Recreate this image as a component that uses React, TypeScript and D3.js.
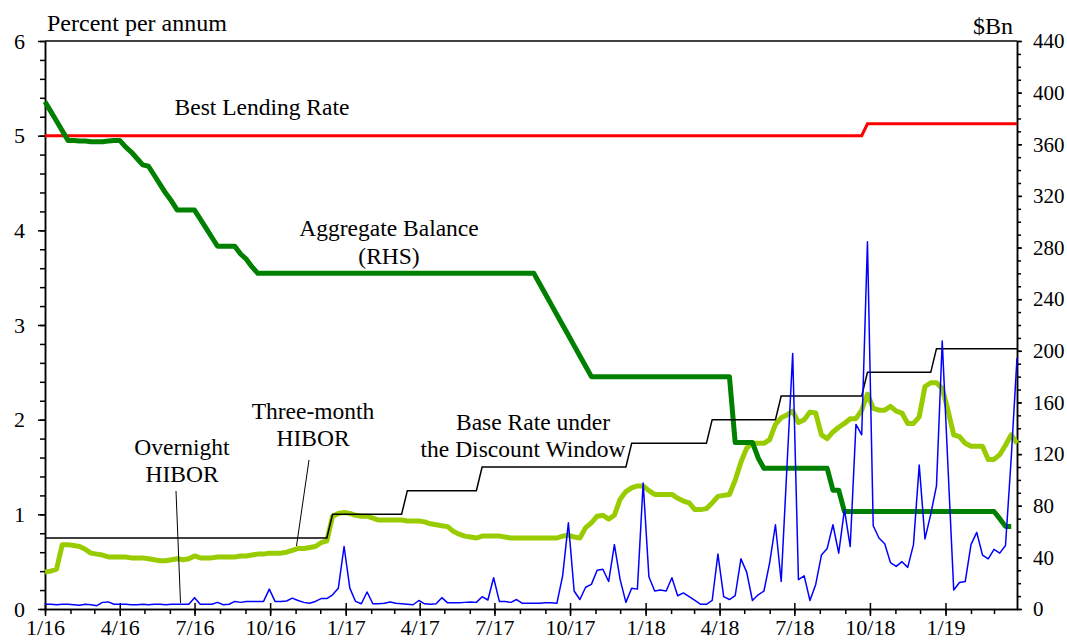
import { useEffect, useRef } from "react";
import * as d3 from "d3";

const WIDTH = 1067;
const HEIGHT = 641;
const PLOT = { left: 45, right: 1017, top: 41, bottom: 609 };
const FONT = "'Liberation Serif', 'Times New Roman', serif";

const RED = "#ff0000";
const DARK_GREEN = "#008000";
const LIGHT_GREEN = "#99cc00";
const BLUE = "#0000ff";

// weekly observations (Fridays) from 1 Jan 2016 to 29 Mar 2019
const START = new Date(2016, 0, 1);
const END = new Date(2019, 2, 29);

// % p.a., weekly
const overnightHibor = [
  0.05, 0.05, 0.045, 0.05, 0.05, 0.045, 0.04, 0.05, 0.045, 0.035,
  0.07, 0.075, 0.05, 0.05, 0.05, 0.045, 0.045, 0.05, 0.045, 0.05,
  0.05, 0.045, 0.05, 0.05, 0.05, 0.05, 0.12, 0.05, 0.05, 0.05,
  0.07, 0.045, 0.05, 0.08, 0.07, 0.08, 0.08, 0.08, 0.08, 0.21,
  0.08, 0.08, 0.085, 0.115, 0.09, 0.07, 0.06, 0.08, 0.11, 0.11,
  0.15, 0.22, 0.66, 0.22, 0.08, 0.055, 0.18, 0.055, 0.055, 0.06,
  0.075, 0.06, 0.055, 0.05, 0.045, 0.09, 0.055, 0.05, 0.055, 0.12,
  0.065, 0.065, 0.065, 0.07, 0.075, 0.07, 0.13, 0.095, 0.33, 0.08,
  0.08, 0.07, 0.1, 0.06, 0.06, 0.06, 0.06, 0.065, 0.065, 0.06,
  0.35, 0.91, 0.19, 0.1, 0.23, 0.26, 0.41, 0.42, 0.29, 0.68,
  0.31, 0.07, 0.22, 0.21, 1.33, 0.34, 0.19, 0.2, 0.19, 0.33,
  0.14, 0.17, 0.13, 0.09, 0.05, 0.05, 0.09, 0.58, 0.13, 0.1,
  0.14, 0.53, 0.39, 0.09, 0.15, 0.19, 0.49, 0.89, 0.29, 1.5,
  2.7, 0.31, 0.35, 0.09, 0.26, 0.57, 0.64, 0.89, 0.59, 1.05,
  0.66, 1.95, 1.84, 3.88, 0.88, 0.75, 0.69, 0.49, 0.45, 0.5,
  0.44, 0.68, 1.52, 0.74, 1.0, 1.3, 2.83, 1.5, 0.2, 0.28,
  0.29, 0.68, 0.81, 0.57, 0.53, 0.63, 0.59, 0.67, 1.6, 2.65,
];

const threeMonthHibor = [
  0.39, 0.4, 0.42, 0.68, 0.68, 0.67, 0.66, 0.63, 0.59, 0.58,
  0.57, 0.55, 0.55, 0.55, 0.55, 0.54, 0.54, 0.54, 0.53, 0.52,
  0.51, 0.51, 0.52, 0.53, 0.52, 0.53, 0.56, 0.54, 0.54, 0.54,
  0.55, 0.55, 0.55, 0.55, 0.56, 0.56, 0.57, 0.58, 0.58, 0.59,
  0.59, 0.59, 0.6, 0.62, 0.64, 0.64, 0.65, 0.66, 0.7, 0.72,
  0.98, 1.01, 1.02, 1.01, 0.99, 0.98, 0.98, 0.96, 0.94, 0.94,
  0.94, 0.94, 0.94, 0.93, 0.93, 0.93, 0.92, 0.9, 0.89, 0.88,
  0.87, 0.82, 0.79, 0.77, 0.76, 0.75, 0.77, 0.77, 0.77, 0.77,
  0.76, 0.75, 0.75, 0.75, 0.75, 0.75, 0.75, 0.75, 0.75, 0.75,
  0.77, 0.78, 0.76, 0.75, 0.86, 0.91, 0.98, 0.99, 0.95, 0.99,
  1.16, 1.24, 1.28, 1.3, 1.3, 1.25, 1.21, 1.21, 1.21, 1.21,
  1.17, 1.14, 1.12, 1.05, 1.05, 1.06, 1.12, 1.19, 1.2, 1.21,
  1.36, 1.55, 1.7, 1.75, 1.75, 1.75, 1.79, 1.95, 2.02, 2.05,
  2.09, 1.97, 2.0, 2.08, 2.07, 1.84, 1.8, 1.87, 1.92, 1.96,
  2.01, 2.01, 2.1, 2.27, 2.12, 2.1, 2.1, 2.14, 2.09, 2.07,
  1.96, 1.96, 2.03, 2.35, 2.39, 2.39, 2.33, 2.1, 1.84, 1.82,
  1.75, 1.72, 1.72, 1.72, 1.58, 1.58, 1.63, 1.73, 1.84, 1.75,
];

// $Bn, weekly (RHS)
const aggregateBalance = [
  393, 385.5, 378, 370.5, 363, 363, 362.5, 362.5, 362, 362,
  362, 362.5, 363, 363, 358, 354, 349, 344, 343, 336,
  329, 322, 316, 309, 309, 309, 309, 302, 295, 288,
  281, 281, 281, 281, 275, 271, 265, 260, 260, 260,
  260, 260, 260, 260, 260, 260, 260, 260, 260, 260,
  260, 260, 260, 260, 260, 260, 260, 260, 260, 260,
  260, 260, 260, 260, 260, 260, 260, 260, 260, 260,
  260, 260, 260, 260, 260, 260, 260, 260, 260, 260,
  260, 260, 260, 260, 260, 260, 252, 244, 236, 228,
  220, 212, 204, 196, 188, 180, 180, 180, 180, 180,
  180, 180, 180, 180, 180, 180, 180, 180, 180, 180,
  180, 180, 180, 180, 180, 180, 180, 180, 180, 180,
  129, 129, 129, 129, 117, 109, 109, 109, 109, 109,
  109, 109, 109, 109, 109, 109, 109, 92, 92, 75.5,
  75.5, 75.5, 75.5, 75.5, 75.5, 75.5, 75.5, 75.5, 75.5, 75.5,
  75.5, 75.5, 75.5, 75.5, 75.5, 75.5, 75.5, 75.5, 75.5, 75.5,
  75.5, 75.5, 75.5, 75.5, 75.5, 75.5, 70, 64, 64,
];

const baseRateDates = [
  "2016-01-01", "2016-12-09", "2016-12-16", "2017-03-10", "2017-03-17",
  "2017-06-09", "2017-06-16", "2017-12-08", "2017-12-15", "2018-03-16",
  "2018-03-23", "2018-06-08", "2018-06-15", "2018-09-21", "2018-09-28",
  "2018-12-14", "2018-12-21", "2019-03-29",
];
const baseRate = [
  0.75, 0.75, 1.0, 1.0, 1.25, 1.25, 1.5, 1.5, 1.75, 1.75, 2.0, 2.0, 2.25,
  2.25, 2.5, 2.5, 2.75, 2.75,
];

const bestLendingDates = ["2016-01-01", "2018-09-21", "2018-09-28", "2019-03-29"];
const bestLendingRate = [5.0, 5.0, 5.125, 5.125];

const LEFT_TICKS = [0, 1, 2, 3, 4, 5, 6];
const RIGHT_TICKS = [0, 40, 80, 120, 160, 200, 240, 280, 320, 360, 400, 440];

export default function App() {
  const svgRef = useRef<SVGSVGElement>(null);

  useEffect(() => {
    const svg = d3.select(svgRef.current);
    svg.selectAll("*").remove();

    const parse = d3.timeParse("%Y-%m-%d");
    const weeks = d3.timeFriday.range(START, d3.timeDay.offset(END, 1));

    const x = d3.scaleTime().domain([START, END]).range([PLOT.left, PLOT.right]);
    const yL = d3.scaleLinear().domain([0, 6]).range([PLOT.bottom, PLOT.top]);
    const yR = d3.scaleLinear().domain([0, 440]).range([PLOT.bottom, PLOT.top]);

    // frame top
    svg.append("line")
      .attr("x1", PLOT.left).attr("x2", PLOT.right)
      .attr("y1", PLOT.top).attr("y2", PLOT.top)
      .attr("stroke", "#000").attr("stroke-width", 1.5);

    const styleAxis = (g: d3.Selection<SVGGElement, unknown, null, undefined>, size: number) => {
      g.selectAll("path.domain").attr("stroke", "#000").attr("stroke-width", 1.5);
      g.selectAll(".tick line").attr("stroke", "#000").attr("stroke-width", 1.5);
      g.selectAll(".tick text")
        .attr("font-family", FONT)
        .attr("font-size", size)
        .attr("fill", "#000");
    };

    // left axis
    const leftMinor = svg.append("g").attr("transform", `translate(${PLOT.left},0)`)
      .call(d3.axisLeft(yL).tickValues(yL.ticks(30)).tickSize(5).tickSizeOuter(0).tickFormat(() => ""));
    styleAxis(leftMinor, 20);
    const leftAxis = svg.append("g").attr("transform", `translate(${PLOT.left},0)`)
      .call(d3.axisLeft(yL).tickValues(LEFT_TICKS).tickSize(7).tickSizeOuter(0).tickPadding(13).tickFormat(d3.format("d")));
    styleAxis(leftAxis, 22);

    // right axis
    const rightMinor = svg.append("g").attr("transform", `translate(${PLOT.right},0)`)
      .call(d3.axisRight(yR).tickValues(yR.ticks(44)).tickSize(4).tickSizeOuter(0).tickFormat(() => ""));
    styleAxis(rightMinor, 20);
    const rightAxis = svg.append("g").attr("transform", `translate(${PLOT.right},0)`)
      .call(d3.axisRight(yR).tickValues(RIGHT_TICKS).tickSize(5).tickSizeOuter(0).tickPadding(11).tickFormat(d3.format("d")));
    styleAxis(rightAxis, 21);

    // bottom axis: monthly minor, quarterly major crossing the axis
    const months = d3.timeMonth.range(START, d3.timeDay.offset(END, 1));
    const quarters = months.filter((m) => m.getMonth() % 3 === 0);
    const bottomMinor = svg.append("g").attr("transform", `translate(0,${PLOT.bottom})`)
      .call(d3.axisBottom(x).tickValues(months).tickSize(5).tickSizeOuter(0).tickFormat(() => ""));
    styleAxis(bottomMinor, 21);
    const bottomAxis = svg.append("g").attr("transform", `translate(0,${PLOT.bottom})`)
      .call(d3.axisBottom(x).tickValues(quarters).tickSize(7).tickSizeOuter(0).tickPadding(3)
        .tickFormat((d) => d3.timeFormat("%-m/%y")(d as Date)));
    styleAxis(bottomAxis, 22);
    bottomAxis.selectAll(".tick line").attr("y1", -6);

    // axis titles
    svg.append("text")
      .attr("x", 47).attr("y", 31)
      .attr("font-family", FONT).attr("font-size", 24)
      .text("Percent per annum");
    svg.append("text")
      .attr("x", 1013).attr("y", 34)
      .attr("text-anchor", "end")
      .attr("font-family", FONT).attr("font-size", 24)
      .text("$Bn");

    const weeklyLine = (scale: d3.ScaleLinear<number, number>) =>
      d3.line<number>().x((_, i) => x(weeks[i])).y((d) => scale(d));

    const stepLine = (dates: string[], scale: d3.ScaleLinear<number, number>) =>
      d3.line<number>().x((_, i) => x(parse(dates[i]) as Date)).y((d) => scale(d));

    // Best Lending Rate
    svg.append("path")
      .attr("d", stepLine(bestLendingDates, yL)(bestLendingRate))
      .attr("fill", "none").attr("stroke", RED).attr("stroke-width", 3);

    // Three-month HIBOR
    svg.append("path")
      .attr("d", weeklyLine(yL)(threeMonthHibor))
      .attr("fill", "none").attr("stroke", LIGHT_GREEN).attr("stroke-width", 5)
      .attr("stroke-linejoin", "round");

    // Aggregate Balance (RHS)
    svg.append("path")
      .attr("d", weeklyLine(yR)(aggregateBalance))
      .attr("fill", "none").attr("stroke", DARK_GREEN).attr("stroke-width", 5)
      .attr("stroke-linejoin", "round");

    // Base Rate
    svg.append("path")
      .attr("d", stepLine(baseRateDates, yL)(baseRate))
      .attr("fill", "none").attr("stroke", "#000").attr("stroke-width", 1.5);

    // Overnight HIBOR
    svg.append("path")
      .attr("d", weeklyLine(yL)(overnightHibor))
      .attr("fill", "none").attr("stroke", BLUE).attr("stroke-width", 1.5)
      .attr("stroke-linejoin", "round");

    // labels
    const labels: [string, number, number][] = [
      ["Best Lending Rate", 262, 115],
      ["Aggregate Balance", 389, 236],
      ["(RHS)", 389, 264],
      ["Three-month", 313, 419],
      ["HIBOR", 313, 446],
      ["Overnight", 182, 455],
      ["HIBOR", 182, 482],
      ["Base Rate under", 533, 430],
      ["the Discount Window", 523, 457],
    ];
    labels.forEach(([t, lx, ly]) => {
      svg.append("text")
        .attr("x", lx).attr("y", ly)
        .attr("text-anchor", "middle")
        .attr("font-family", FONT).attr("font-size", 23.5)
        .text(t);
    });

    // pointer lines
    [
      [176, 491, 180.5, 603],
      [309, 460, 296.5, 546],
    ].forEach(([x1, y1, x2, y2]) => {
      svg.append("line")
        .attr("x1", x1).attr("y1", y1).attr("x2", x2).attr("y2", y2)
        .attr("stroke", "#000").attr("stroke-width", 1);
    });
  }, []);

  return (
    <svg
      ref={svgRef}
      width={WIDTH}
      height={HEIGHT}
      style={{ position: "absolute", left: 0, top: 0, background: "#fff" }}
    />
  );
}
